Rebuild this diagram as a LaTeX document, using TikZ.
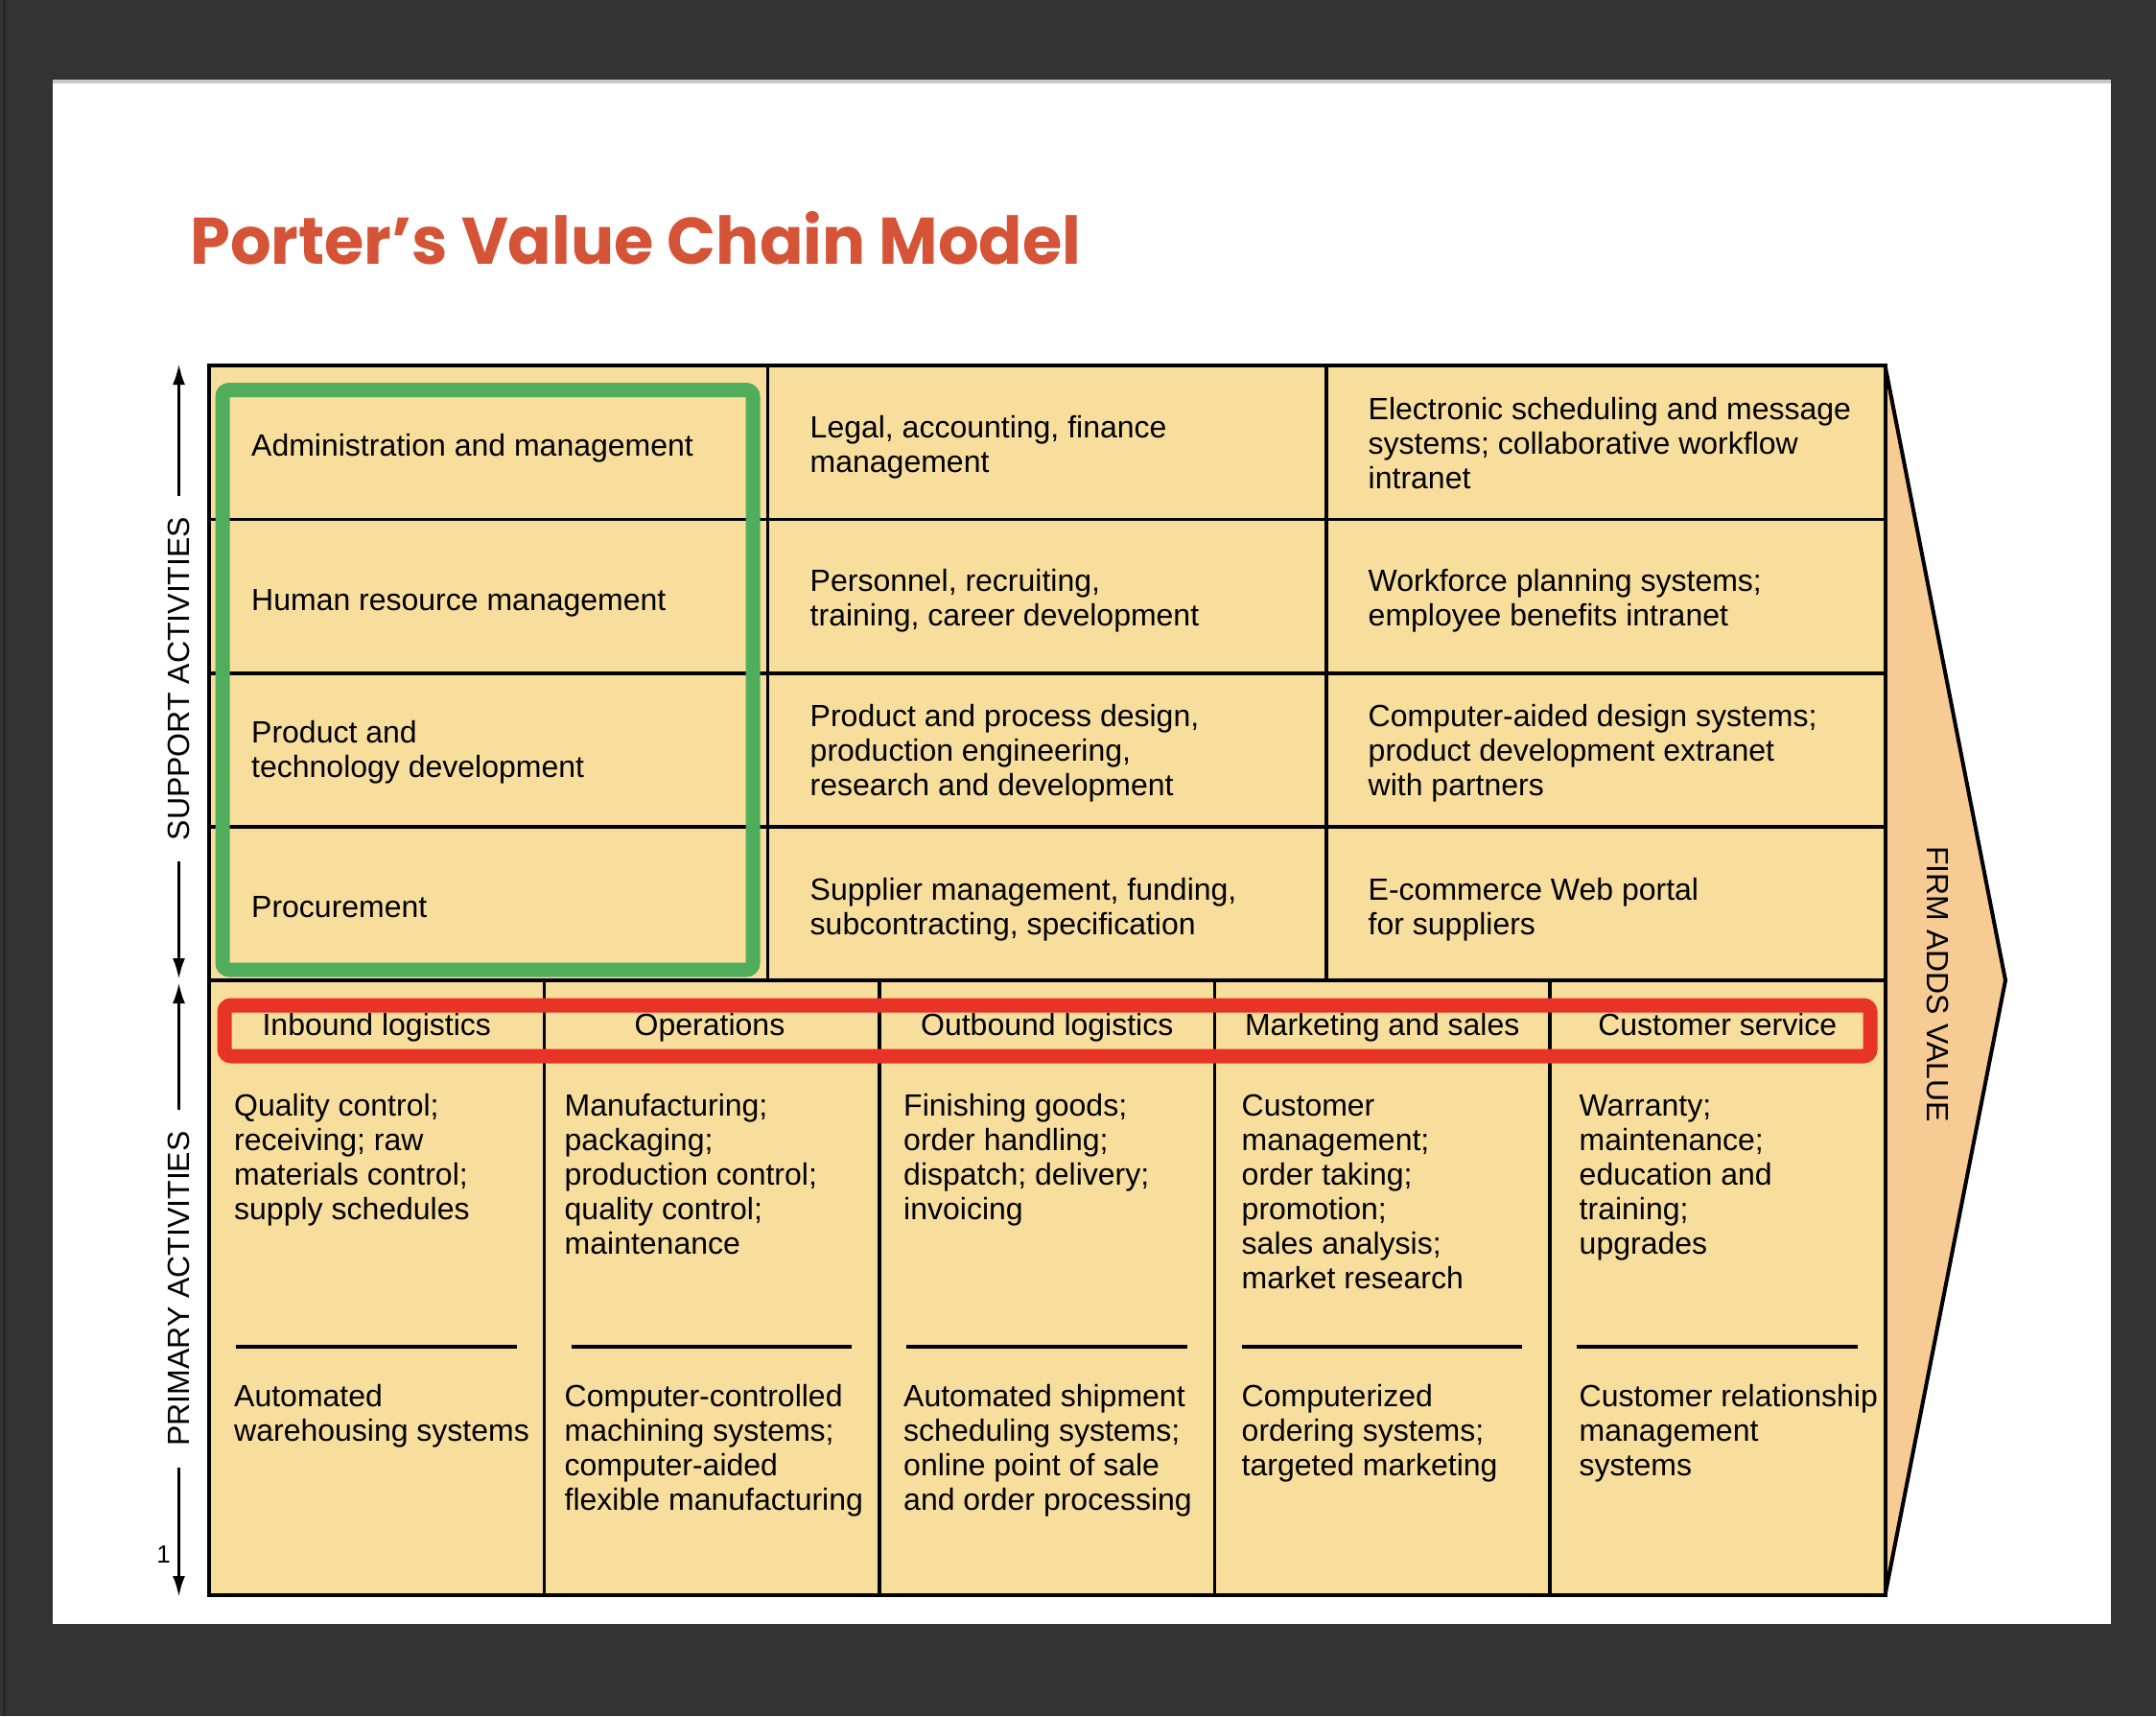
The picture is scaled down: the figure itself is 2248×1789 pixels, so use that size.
\documentclass[tikz,border=0pt]{standalone}
\usepackage{fontspec}
\usepackage{graphicx}
\setmainfont{Liberation Sans}
\newfontfamily\titlefont{Poppins}
\usetikzlibrary{arrows.meta}

\definecolor{pagebg}{RGB}{51,51,51}
\definecolor{pageedge}{RGB}{200,200,200}
\definecolor{chainfill}{RGB}{248,222,157}
\definecolor{marginfill}{RGB}{247,204,148}
\definecolor{titlered}{RGB}{213,83,54}
\definecolor{boxgreen}{RGB}{79,173,91}
\definecolor{boxred}{RGB}{232,52,38}

\newcommand{\cellrows}[1]{\begin{tabular}[t]{@{}l@{}}#1\end{tabular}}

\begin{document}
\begin{tikzpicture}[x=1pt, y=-1pt,
  cell/.style={anchor=west, inner sep=0pt, font=\fontsize{32}{36}\selectfont},
  act/.style={anchor=base west, inner sep=0pt, font=\fontsize{32}{36}\selectfont},
  head/.style={anchor=base, inner sep=0pt, font=\fontsize{32}{36}\selectfont},
  grid line/.style={line width=3.5pt},
  side label/.style={inner xsep=22pt, inner ysep=0pt, font=\fontsize{32}{36}\selectfont},
  side arrow/.style={line width=3.3pt, -{Latex[length=22pt,width=13pt]}},
  focus/.style={line width=15pt, rounded corners=7pt}]
  \useasboundingbox (0,0) rectangle (2248,1789);

  % screen and slide
  \fill[pagebg] (0,0) rectangle (2248,1789);
  \fill[black!85] (3,0) rectangle (6,1789);
  \fill[white] (54.5,83) rectangle (2201,1693);
  \fill[pageedge] (54.5,83) rectangle (2201,87);

  \node[anchor=base west, inner sep=0pt, text=titlered] (title) at (198,275)
    {\resizebox{929pt}{55pt}{\titlefont\bfseries Porter’s Value Chain Model}};

  % margin arrow and table
  \draw[line width=4pt, fill=marginfill] (1965.5,381) -- (2091,1022) -- (1965.5,1663) -- cycle;
  \fill[chainfill] (218,381) rectangle (1965.5,1663);
  \foreach \y in {541.5,702,862,1022}
    \draw[grid line] (218,\y) -- (1965.5,\y);
  \foreach \x in {800.5,1383}
    \draw[grid line] (\x,381) -- (\x,1022);
  \foreach \x in {567.5,917,1266.5,1616}
    \draw[grid line] (\x,1022) -- (\x,1663);
  \foreach \x in {218,567.5,917,1266.5,1616}
    \draw[grid line] (\x+28,1404) -- (\x+320.5,1404);
  \draw[line width=4pt] (218,381) rectangle (1965.5,1663);

  \node[rotate=-90, inner sep=0pt, font=\fontsize{32}{36}\selectfont] (value) at (2020.5,1026) {FIRM ADDS VALUE};

  % support activities
  \node[cell] (admin) at (262,468) {\cellrows{Administration and management}};
  \node[cell] (legal) at (844.5,467) {\cellrows{Legal, accounting, finance\\management}};
  \node[cell] (escheduling) at (1426.5,466) {\cellrows{Electronic scheduling and message\\systems; collaborative workflow\\intranet}};
  \node[cell] (hrm) at (262,629) {\cellrows{Human resource management}};
  \node[cell] (personnel) at (844.5,627) {\cellrows{Personnel, recruiting,\\training, career development}};
  \node[cell] (workforce) at (1426.5,627) {\cellrows{Workforce planning systems;\\employee benefits intranet}};
  \node[cell] (techdev) at (262,785) {\cellrows{Product and\\technology development}};
  \node[cell] (design) at (844.5,786) {\cellrows{Product and process design,\\production engineering,\\research and development}};
  \node[cell] (cad) at (1426.5,786) {\cellrows{Computer-aided design systems;\\product development extranet\\with partners}};
  \node[cell] (procure) at (262,949) {\cellrows{Procurement}};
  \node[cell] (supplier) at (844.5,949) {\cellrows{Supplier management, funding,\\subcontracting, specification}};
  \node[cell] (eportal) at (1426.5,949) {\cellrows{E-commerce Web portal\\for suppliers}};

  % primary activities
  \node[head] (inbound) at (392.75,1079.5) {Inbound logistics};
  \node[head] (operations) at (740,1079.5) {Operations};
  \node[head] (outbound) at (1091.75,1079.5) {Outbound logistics};
  \node[head] (marketing) at (1441.25,1079.5) {Marketing and sales};
  \node[head] (service) at (1790.75,1079.5) {Customer service};

  \node[act] (inbound tasks) at (244,1163) {\cellrows{Quality control;\\receiving; raw\\materials control;\\supply schedules}};
  \node[act] (operations tasks) at (588.5,1163) {\cellrows{Manufacturing;\\packaging;\\production control;\\quality control;\\maintenance}};
  \node[act] (outbound tasks) at (942,1163) {\cellrows{Finishing goods;\\order handling;\\dispatch; delivery;\\invoicing}};
  \node[act] (marketing tasks) at (1294.5,1163) {\cellrows{Customer\\management;\\order taking;\\promotion;\\sales analysis;\\market research}};
  \node[act] (service tasks) at (1646.5,1163) {\cellrows{Warranty;\\maintenance;\\education and\\training;\\upgrades}};

  \node[act] (inbound it) at (244,1466.5) {\cellrows{Automated\\warehousing systems}};
  \node[act] (operations it) at (588.5,1466.5) {\cellrows{Computer-controlled\\machining systems;\\computer-aided\\flexible manufacturing}};
  \node[act] (outbound it) at (942,1466.5) {\cellrows{Automated shipment\\scheduling systems;\\online point of sale\\and order processing}};
  \node[act] (marketing it) at (1294.5,1466.5) {\cellrows{Computerized\\ordering systems;\\targeted marketing}};
  \node[act] (service it) at (1646.5,1466.5) {\cellrows{Customer relationship\\management\\systems}};

  % highlight frames
  \draw[focus, boxgreen] (232,406.5) rectangle (785,1011);
  \draw[focus, boxred] (234,1048) rectangle (1950,1101);

  % side labels
  \node[side label, rotate=90] (support) at (186.5,707.5) {SUPPORT ACTIVITIES};
  \node[side label, rotate=90] (primary) at (186.5,1343.5) {PRIMARY ACTIVITIES};
  \coordinate (support top) at (186.5,379);
  \coordinate (support bottom) at (186.5,1021);
  \coordinate (primary top) at (186.5,1024);
  \coordinate (primary bottom) at (186.5,1665);
  \draw[side arrow] (support.east) -- (support top);
  \draw[side arrow] (support.west) -- (support bottom);
  \draw[side arrow] (primary.east) -- (primary top);
  \draw[side arrow] (primary.west) -- (primary bottom);
  \node[inner sep=0pt, font=\fontsize{26}{28}\selectfont] (pageno) at (170.5,1620.5) {1};
\end{tikzpicture}
\end{document}
